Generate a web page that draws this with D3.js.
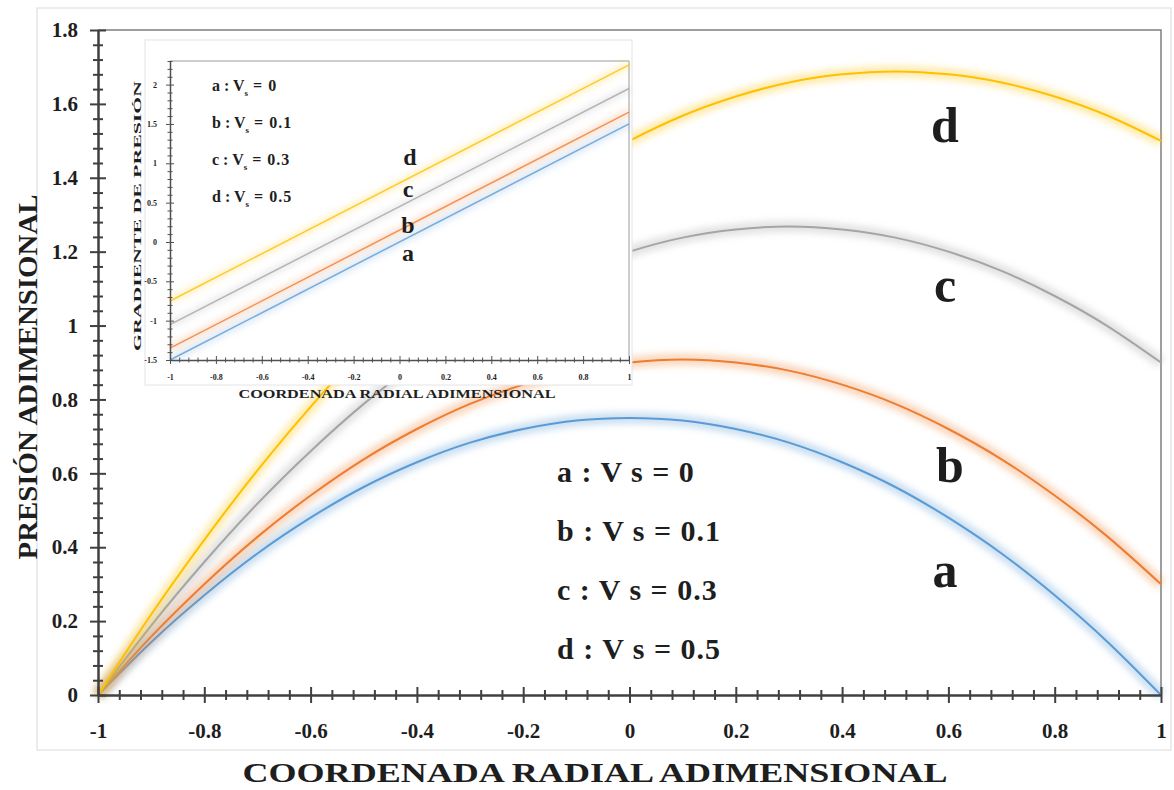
<!DOCTYPE html>
<html>
<head>
<meta charset="utf-8">
<script src="https://cdn.jsdelivr.net/npm/d3@7/dist/d3.min.js"></script>
<style>
  body { margin: 0; background: #fff; }
  text { font-family: "Liberation Serif", "Times New Roman", serif; font-weight: bold; fill: #1e1e1e; }
</style>
</head>
<body>
<div id="chart"></div>
<script>
// radial coordinate and pressure values
var radial = [-1, -0.9, -0.8, -0.7, -0.6, -0.5, -0.4, -0.3, -0.2, -0.1, 0,
              0.1, 0.2, 0.3, 0.4, 0.5, 0.6, 0.7, 0.8, 0.9, 1];
var presionA = [0, 0.143, 0.270, 0.383, 0.480, 0.563, 0.630, 0.683, 0.720, 0.743, 0.750,
                0.743, 0.720, 0.683, 0.630, 0.563, 0.480, 0.383, 0.270, 0.143, 0];
var presionB = [0, 0.158, 0.300, 0.428, 0.540, 0.638, 0.720, 0.788, 0.840, 0.878, 0.900,
                0.908, 0.900, 0.878, 0.840, 0.788, 0.720, 0.638, 0.540, 0.428, 0.300];
var presionC = [0, 0.188, 0.360, 0.518, 0.660, 0.788, 0.900, 0.998, 1.080, 1.148, 1.200,
                1.238, 1.260, 1.268, 1.260, 1.238, 1.200, 1.148, 1.080, 0.998, 0.900];
var presionD = [0, 0.218, 0.420, 0.608, 0.780, 0.938, 1.080, 1.208, 1.320, 1.418, 1.500,
                1.568, 1.620, 1.658, 1.680, 1.688, 1.680, 1.658, 1.620, 1.568, 1.500];

// inset: pressure gradient
var gradRadial = [-1, 1];
var gradA = [-1.5, 1.5];
var gradB = [-1.35, 1.65];
var gradC = [-1.05, 1.95];
var gradD = [-0.75, 2.25];

var seriesNames = ["a", "b", "c", "d"];
var vsValues = ["0", "0.1", "0.3", "0.5"];
var seriesColors = ["#5B9BD5", "#ED7D31", "#A5A5A5", "#FFC000"];

var xTicks = [-1, -0.8, -0.6, -0.4, -0.2, 0, 0.2, 0.4, 0.6, 0.8, 1];
var yTicks = [0, 0.2, 0.4, 0.6, 0.8, 1, 1.2, 1.4, 1.6, 1.8];
var insetYTicks = [-1.5, -1, -0.5, 0, 0.5, 1, 1.5, 2];

var width = 1174, height = 790;
var fmt = function(d){ return String(+d.toFixed(2)); };

var svg = d3.select("#chart").append("svg")
  .attr("width", width)
  .attr("height", height);

var defs = svg.append("defs");
defs.append("filter").attr("id", "glow")
  .attr("x", "-10%").attr("y", "-10%").attr("width", "120%").attr("height", "120%")
  .append("feGaussianBlur").attr("stdDeviation", 3);

// outer frame
svg.append("rect")
  .attr("x", 37).attr("y", 8).attr("width", 1134).attr("height", 742)
  .attr("fill", "none").attr("stroke", "#dadada").attr("stroke-width", 1);

var x = d3.scaleLinear().domain([-1, 1]).range([98, 1161]);
var y = d3.scaleLinear().domain([0, 1.8]).range([695, 30]);

// plot border (top + right)
svg.append("path")
  .attr("d", "M" + x(-1) + "," + y(1.8) + "H" + x(1) + "V" + y(0))
  .attr("fill", "none").attr("stroke", "#7f7f7f").attr("stroke-width", 1.5);

// MAIN CURVES
var mainSeries = [presionA, presionB, presionC, presionD];
var mainLine = d3.line()
  .x(function(d, i){ return x(radial[i]); })
  .y(function(d){ return y(d); })
  .curve(d3.curveNatural);

var curves = svg.append("g");
mainSeries.forEach(function(s, i){
  curves.append("path").datum(s)
    .attr("d", mainLine)
    .attr("fill", "none")
    .attr("stroke", seriesColors[i])
    .attr("stroke-width", 12)
    .attr("stroke-opacity", 0.3)
    .attr("filter", "url(#glow)");
  curves.append("path").datum(s)
    .attr("d", mainLine)
    .attr("fill", "none")
    .attr("stroke", seriesColors[i])
    .attr("stroke-width", 2);
});

// MAIN AXES
function crossTicks(g, size, vertical){
  g.selectAll(".tick line")
    .attr("stroke", "#404040").attr("stroke-width", 2)
    .each(function(){
      if (vertical) d3.select(this).attr("x1", size).attr("x2", -size);
      else d3.select(this).attr("y1", -size).attr("y2", size);
    });
}

var xMinor = d3.range(-1, 1.0001, 0.04).filter(function(v){
  return Math.abs(v * 5 - Math.round(v * 5)) > 1e-6;
});
var yMinor = d3.range(0, 1.8001, 0.04).filter(function(v){
  return Math.abs(v * 5 - Math.round(v * 5)) > 1e-6;
});

var gxMinor = svg.append("g").attr("transform", "translate(0," + y(0) + ")")
  .call(d3.axisBottom(x).tickValues(xMinor).tickFormat("").tickSizeOuter(0));
gxMinor.select(".domain").remove();
crossTicks(gxMinor, 5, false);

var gyMinor = svg.append("g").attr("transform", "translate(" + x(-1) + ",0)")
  .call(d3.axisLeft(y).tickValues(yMinor).tickFormat("").tickSizeOuter(0));
gyMinor.select(".domain").remove();
crossTicks(gyMinor, 5, true);

var gx = svg.append("g").attr("transform", "translate(0," + y(0) + ")")
  .call(d3.axisBottom(x).tickValues(xTicks).tickFormat(fmt).tickSizeOuter(0).tickPadding(22));
gx.select(".domain").attr("stroke", "#404040").attr("stroke-width", 2.5);
crossTicks(gx, 8, false);
gx.selectAll("text").attr("font-size", 21).attr("font-family", "Liberation Serif").attr("fill", "#1e1e1e");

var gy = svg.append("g").attr("transform", "translate(" + x(-1) + ",0)")
  .call(d3.axisLeft(y).tickValues(yTicks).tickFormat(fmt).tickSizeOuter(0).tickPadding(14));
gy.select(".domain").attr("stroke", "#404040").attr("stroke-width", 2.5);
crossTicks(gy, 8, true);
gy.selectAll("text").attr("font-size", 21).attr("font-family", "Liberation Serif").attr("fill", "#1e1e1e");

// axis titles
svg.append("text")
  .attr("x", 595).attr("y", 782)
  .attr("text-anchor", "middle")
  .attr("font-size", 28)
  .attr("textLength", 705).attr("lengthAdjust", "spacingAndGlyphs")
  .text("COORDENADA  RADIAL  ADIMENSIONAL");

svg.append("text")
  .attr("transform", "translate(37,377) rotate(-90)")
  .attr("text-anchor", "middle")
  .attr("font-size", 27)
  .attr("textLength", 365).attr("lengthAdjust", "spacingAndGlyphs")
  .text("PRESIÓN  ADIMENSIONAL");

// curve letters
var bigLetters = [[945, 587], [950, 482], [945, 302], [945, 142]];
seriesNames.forEach(function(n, i){
  svg.append("text")
    .attr("x", bigLetters[i][0]).attr("y", bigLetters[i][1])
    .attr("text-anchor", "middle")
    .attr("font-size", 50)
    .text(n);
});

// legend text in the main plot
seriesNames.forEach(function(n, i){
  svg.append("text")
    .attr("x", 557).attr("y", 482 + i * 59)
    .attr("font-size", 30)
    .attr("letter-spacing", 1)
    .text(n + " : V s = " + vsValues[i]);
});

// INSET
var inset = svg.append("g");
inset.append("rect")
  .attr("x", 145).attr("y", 40).attr("width", 487).attr("height", 345)
  .attr("fill", "#fff").attr("stroke", "#e4e4e4").attr("stroke-width", 1);

var ix = d3.scaleLinear().domain([-1, 1]).range([170, 629]);
var iy = d3.scaleLinear().domain([-1.5, 2.3]).range([360, 61]);

inset.append("path")
  .attr("d", "M" + ix(-1) + "," + iy(2.3) + "H" + ix(1) + "V" + iy(-1.5))
  .attr("fill", "none").attr("stroke", "#9a9a9a").attr("stroke-width", 1);

var gradSeries = [gradA, gradB, gradC, gradD];
var gradLine = d3.line()
  .x(function(d, i){ return ix(gradRadial[i]); })
  .y(function(d){ return iy(d); });

gradSeries.forEach(function(s, i){
  inset.append("path").datum(s)
    .attr("d", gradLine)
    .attr("fill", "none")
    .attr("stroke", seriesColors[i])
    .attr("stroke-width", 7)
    .attr("stroke-opacity", 0.22)
    .attr("filter", "url(#glow)");
  inset.append("path").datum(s)
    .attr("d", gradLine)
    .attr("fill", "none")
    .attr("stroke", seriesColors[i])
    .attr("stroke-width", 1.5)
    .attr("stroke-opacity", 0.8);
});

var ixMinor = d3.range(-1, 1.0001, 0.04).filter(function(v){
  return Math.abs(v * 5 - Math.round(v * 5)) > 1e-6;
});
var iyMinor = d3.range(-1.5, 2.3001, 0.1).filter(function(v){
  return Math.abs(v * 2 - Math.round(v * 2)) > 1e-6;
});

function insetTicks(g, size, vertical){
  g.selectAll(".tick line")
    .attr("stroke", "#505050").attr("stroke-width", 1)
    .each(function(){
      if (vertical) d3.select(this).attr("x1", size).attr("x2", -size);
      else d3.select(this).attr("y1", -size).attr("y2", size);
    });
}

var igxMinor = inset.append("g").attr("transform", "translate(0," + iy(-1.5) + ")")
  .call(d3.axisBottom(ix).tickValues(ixMinor).tickFormat("").tickSizeOuter(0));
igxMinor.select(".domain").remove();
insetTicks(igxMinor, 2.5, false);

var igyMinor = inset.append("g").attr("transform", "translate(" + ix(-1) + ",0)")
  .call(d3.axisLeft(iy).tickValues(iyMinor).tickFormat("").tickSizeOuter(0));
igyMinor.select(".domain").remove();
insetTicks(igyMinor, 2.5, true);

var igx = inset.append("g").attr("transform", "translate(0," + iy(-1.5) + ")")
  .call(d3.axisBottom(ix).tickValues(xTicks).tickFormat(fmt).tickSizeOuter(0).tickPadding(8));
igx.select(".domain").attr("stroke", "#505050").attr("stroke-width", 1.5);
insetTicks(igx, 4, false);
igx.selectAll("text").attr("font-size", 8).attr("font-family", "Liberation Serif").attr("fill", "#555");

var igy = inset.append("g").attr("transform", "translate(" + ix(-1) + ",0)")
  .call(d3.axisLeft(iy).tickValues(insetYTicks).tickFormat(fmt).tickSizeOuter(0).tickPadding(7));
igy.select(".domain").attr("stroke", "#505050").attr("stroke-width", 1.5);
insetTicks(igy, 4, true);
igy.selectAll("text").attr("font-size", 8).attr("font-family", "Liberation Serif").attr("fill", "#555");

// inset titles
svg.append("text")
  .attr("x", 397).attr("y", 398)
  .attr("text-anchor", "middle")
  .attr("font-size", 13)
  .attr("textLength", 317).attr("lengthAdjust", "spacingAndGlyphs")
  .text("COORDENADA RADIAL  ADIMENSIONAL");

inset.append("text")
  .attr("transform", "translate(141,216) rotate(-90)")
  .attr("text-anchor", "middle")
  .attr("font-size", 11)
  .attr("textLength", 270).attr("lengthAdjust", "spacingAndGlyphs")
  .text("GRADIENTE  DE  PRESIÓN");

// inset legend
seriesNames.forEach(function(n, i){
  var t = inset.append("text")
    .attr("x", 212).attr("y", 91 + i * 37)
    .attr("font-size", 16);
  t.append("tspan").text(n + " : V");
  t.append("tspan").attr("font-size", 9).attr("dy", 5).text("s");
  t.append("tspan").attr("dy", -5).attr("letter-spacing", 1).text(" = " + vsValues[i]);
});

// inset curve letters
var smallLetters = [[408, 261], [408, 233], [408, 197], [410, 165]];
seriesNames.forEach(function(n, i){
  inset.append("text")
    .attr("x", smallLetters[i][0]).attr("y", smallLetters[i][1])
    .attr("text-anchor", "middle")
    .attr("font-size", 24)
    .text(n);
});
</script>
</body>
</html>
